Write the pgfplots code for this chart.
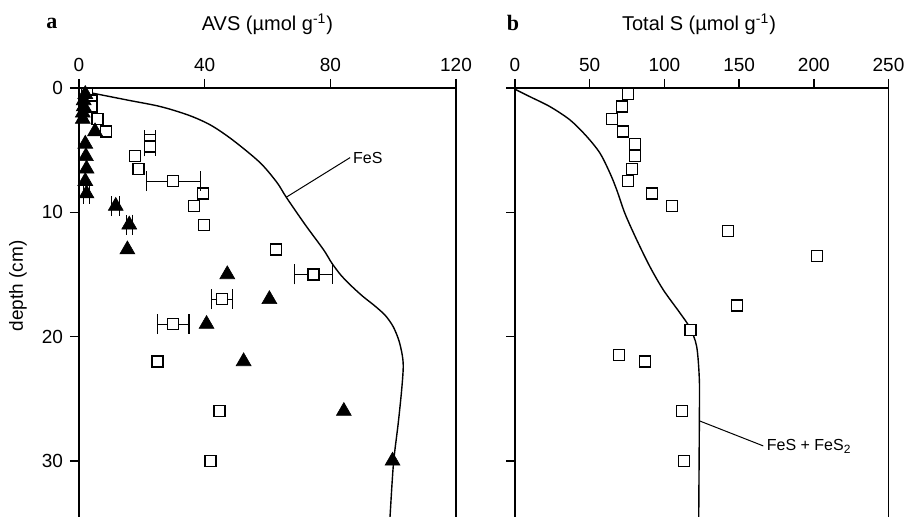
\documentclass[border=0pt]{standalone}
\usepackage{fontspec}
\setmainfont{Liberation Sans}
\newfontfamily\serifb{Liberation Serif}
\usepackage{pgfplots}
\pgfplotsset{compat=1.18}
\pgfplotsset{
 mystyle/.style={
  scale only axis, height=217.5pt, y dir=reverse, ymin=0, ymax=35,
  tick align=outside, major tick length=4.5pt,
  xtick pos=upper, xticklabel pos=upper, ytick pos=left,
  axis line style={line width=0.7pt}, tick style={line width=0.7pt, black},
  ytick={0,10,20,30},
  /pgf/number format/assume math mode=true,
  ticklabel style={font=\fontsize{9.5}{10}\selectfont},
  clip mode=individual,
 },
 sq/.style={only marks, mark=square*, mark size=2.75pt, mark options={fill=white, draw=black, line width=0.65pt}},
 tri/.style={only marks, mark=triangle*, mark size=4.3pt, mark options={fill=black, draw=black, line width=0.3pt}},
 eb/.style={error bars/.cd, x dir=both, x explicit, error mark=|, error bar style={line width=0.6pt, black}, error mark options={mark size=5pt, line width=0.6pt, black}},
}
\begin{document}
\begin{tikzpicture}
\useasboundingbox (0pt,0pt) rectangle (453pt,258.5pt);
% panel a
\begin{axis}[mystyle, at={(39.5pt,214.5pt)}, anchor=north west, width=188.5pt,
  xmin=0, xmax=120, xtick={0,40,80,120}]
\addplot[smooth, line width=0.7pt, black] coordinates {
 (2,0.3) (10,0.7) (16,1.0) (26,1.5) (35,2.2) (42,3.0) (49,4.2) (57.6,6.0) (63,7.6) (66,8.8)
 (72,11) (77.8,13) (80.5,14.1) (83.5,15.1) (87,16) (90.5,16.8) (94,17.5) (97.5,18.3)
 (100,19.2) (101.8,20.3) (102.9,21.5) (103.2,22.5)
 (102.7,24.3) (101.6,27) (100.1,30.2) (99,34.5) (98.9,35)};
\addplot[sq] coordinates {
 (2.5,0.5) (4,1) (4,1.5) (5.9,2.5) (8.5,3.5) (17.9,5.5) (18.9,6.5) (39.4,8.5) (36.6,9.5)
 (39.8,11) (62.7,13) (25,22) (44.7,26) (41.9,30)};
\addplot[sq, eb] coordinates {
 (22.6,4.2) +- (1.75,0)
 (22.6,4.7) +- (1.75,0)
 (30,7.5) +- (8.6,0)
 (74.6,15) +- (6.1,0)
 (45.5,17) +- (3.35,0)
 (30,19) +- (5,0)};
\addplot[tri] coordinates {
 (2,0.5) (1.5,1) (1.5,1.5) (1.2,2) (1.2,2.5) (5.1,3.5) (2,4.5) (2.2,5.5) (2.4,6.5) (2,7.5)
 (15.4,13) (47.2,15) (60.6,17) (40.6,19) (52.4,22) (84.3,26) (99.8,30)};
\addplot[tri, eb] coordinates {
 (2.4,8.5) +- (1,0)
 (11.7,9.5) +- (1.3,0)
 (16,11) +- (1,0)};
\draw[line width=0.5pt] (axis cs:65.9,8.8) -- (axis cs:86.3,5.6);
\node[anchor=west, inner sep=1pt, font=\fontsize{8}{9}\selectfont] at (axis cs:86.5,5.6) {FeS};
\end{axis}
% panel b
\begin{axis}[mystyle, at={(257.5pt,214.5pt)}, anchor=north west, width=186.75pt,
  xmin=0, xmax=250, xtick={0,50,100,150,200,250}, yticklabels={}]
\addplot[smooth, line width=0.7pt, black] coordinates {
 (0,0.1) (10,0.7) (23.4,1.5) (36.8,2.57) (48,3.9) (56.9,5.25) (63.6,6.86) (68.1,8.2)
 (73.6,10.1) (81.4,12.2) (90.4,14.4) (99.3,16.25) (110.4,18.1) (117.1,19.3) (121.6,20.8)
 (123.4,23.5) (123.4,26.7) (123,34.2) (123,35)};
\addplot[sq] coordinates {
 (75.4,0.5) (71.8,1.5) (64.9,2.5) (72.1,3.5) (80.3,4.5) (80.1,5.5) (78.1,6.5) (75.4,7.5)
 (91.5,8.5) (104.9,9.5) (142.8,11.5) (202,13.5) (148.6,17.5) (117.5,19.5) (69.8,21.5)
 (87,22) (112,26) (113.1,30)};
\draw[line width=0.5pt] (axis cs:123.8,26.8) -- (axis cs:166.2,28.8);
\node[anchor=west, inner sep=1pt, font=\fontsize{8}{9}\selectfont] at (axis cs:167,28.85) {FeS + FeS\textsubscript{2}};
\end{axis}
\node[font=\fontsize{10}{11}\selectfont] at (133.75pt,246.5pt) {AVS (µmol g\textsuperscript{-1})};
\node[font=\fontsize{10}{11}\selectfont] at (349.5pt,246.5pt) {Total S (µmol g\textsuperscript{-1})};
\node[font=\serifb\bfseries\fontsize{11}{12}\selectfont] at (26pt,247pt) {a};
\node[font=\serifb\bfseries\fontsize{11}{12}\selectfont] at (256.5pt,247pt) {b};
\node[rotate=90, font=\fontsize{9.5}{10}\selectfont] at (9pt,115.5pt) {depth (cm)};
\end{tikzpicture}
\end{document}
